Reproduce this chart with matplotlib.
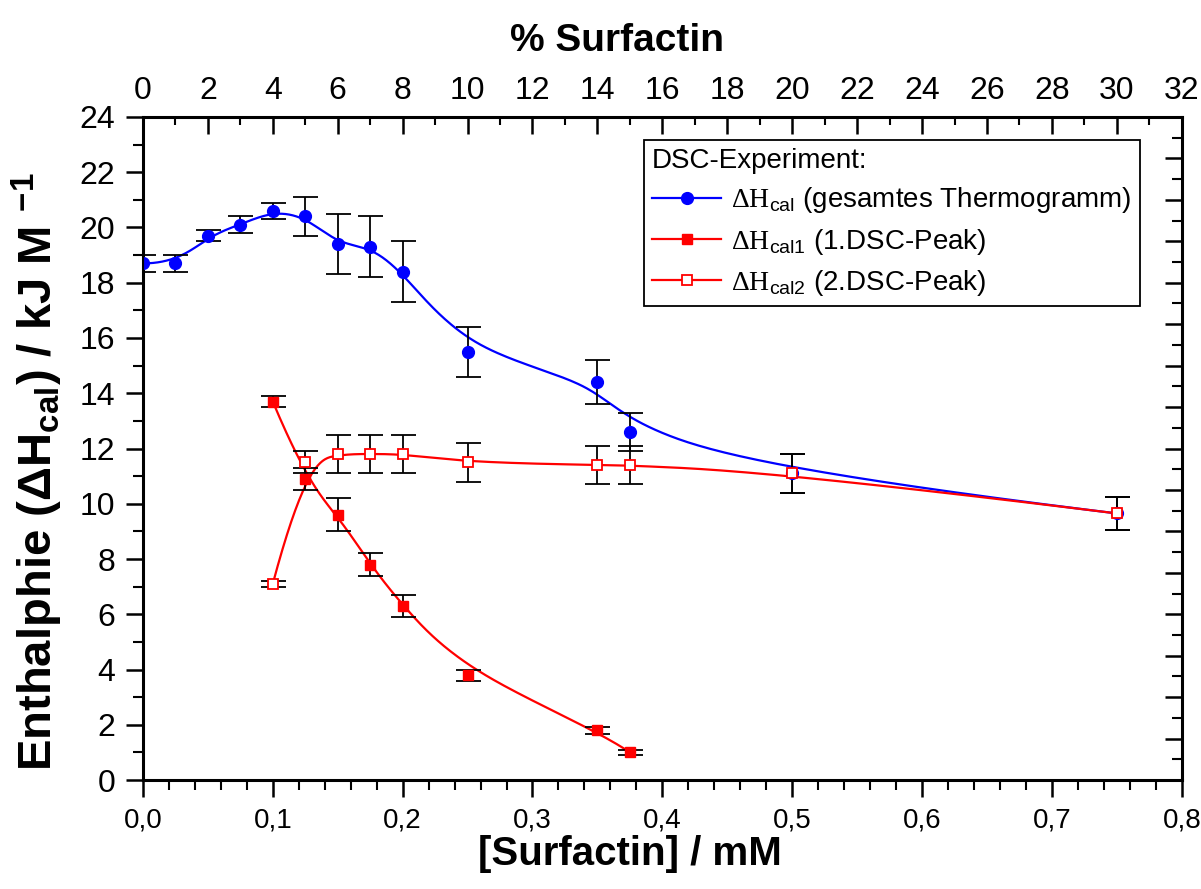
import numpy as np
import matplotlib
matplotlib.use('Agg')
import matplotlib.pyplot as plt
from matplotlib import font_manager
from matplotlib.ticker import MultipleLocator, FuncFormatter
from matplotlib.lines import Line2D

plt.rcParams['font.family'] = ['Liberation Sans', 'DejaVu Sans']
plt.rcParams['mathtext.fontset'] = 'custom'
plt.rcParams['mathtext.rm'] = 'Liberation Serif'
plt.rcParams['mathtext.sf'] = 'Liberation Sans'
plt.rcParams['mathtext.bf'] = 'Liberation Sans:bold'

installed = {f.name for f in font_manager.fontManager.ttflist}
has_narrow = 'Liberation Sans Narrow' in installed
narrow = 'Liberation Sans Narrow' if has_narrow else 'Liberation Sans'

# [Surfactin] / mM and enthalpies / kJ M^-1
conc_total = [0.0, 0.025, 0.05, 0.075, 0.1, 0.125, 0.15, 0.175, 0.2, 0.25, 0.35, 0.375, 0.5, 0.75]
dh_total = [18.7, 18.7, 19.7, 20.1, 20.6, 20.4, 19.4, 19.3, 18.4, 15.5, 14.4, 12.6, 11.1, 9.65]
err_total = [0.3, 0.3, 0.2, 0.3, 0.3, 0.7, 1.1, 1.1, 1.1, 0.9, 0.8, 0.7, 0.7, 0.6]

conc_peak1 = [0.1, 0.125, 0.15, 0.175, 0.2, 0.25, 0.35, 0.375]
dh_peak1 = [13.7, 10.9, 9.6, 7.8, 6.3, 3.8, 1.8, 1.0]
err_peak1 = [0.2, 0.4, 0.6, 0.4, 0.4, 0.2, 0.12, 0.1]

conc_peak2 = [0.1, 0.125, 0.15, 0.175, 0.2, 0.25, 0.35, 0.375, 0.5, 0.75]
dh_peak2 = [7.1, 11.5, 11.8, 11.8, 11.8, 11.5, 11.4, 11.4, 11.1, 9.65]
err_peak2 = [0.1, 0.4, 0.7, 0.7, 0.7, 0.7, 0.7, 0.7, 0.7, 0.6]


def bspline(xs, ys, num=400):
    # clamped cubic B-spline using the data points as control points
    xs = np.asarray(xs, float)
    ys = np.asarray(ys, float)
    n = len(xs)
    k = 3
    knots = np.concatenate([np.zeros(k), np.arange(n - k + 1), np.full(k, n - k)]).astype(float)
    t = np.linspace(0, n - k, num)
    N = np.zeros((num, len(knots) - 1))
    for i in range(len(knots) - 1):
        N[:, i] = (knots[i] <= t) & (t < knots[i + 1])
    N[-1, n - 1] = 1.0
    for p in range(1, k + 1):
        Nn = np.zeros((num, len(knots) - 1 - p))
        for i in range(len(knots) - 1 - p):
            d1 = knots[i + p] - knots[i]
            d2 = knots[i + p + 1] - knots[i + 1]
            if d1 > 0:
                Nn[:, i] += (t - knots[i]) / d1 * N[:, i]
            if d2 > 0:
                Nn[:, i] += (knots[i + p + 1] - t) / d2 * N[:, i + 1]
        N = Nn
    return N @ xs, N @ ys


fig = plt.figure(figsize=(12.01, 8.89), dpi=100)
ax = fig.add_axes([0.119, 0.1226, 0.865, 0.7458])

blue = '#0000ff'
red = '#ff0000'

for cx, cy, col in [(conc_total, dh_total, blue), (conc_peak1, dh_peak1, red), (conc_peak2, dh_peak2, red)]:
    sx, sy = bspline(cx, cy)
    ax.plot(sx, sy, color=col, lw=1.6, zorder=2)

for cx, cy, ce in [(conc_total, dh_total, err_total), (conc_peak1, dh_peak1, err_peak1), (conc_peak2, dh_peak2, err_peak2)]:
    ax.errorbar(cx, cy, yerr=ce, fmt='none', ecolor='black', elinewidth=1.3,
                capsize=9, capthick=1.3, zorder=3)

ax.plot(conc_total, dh_total, 'o', ms=8.5, color=blue, mec=blue, zorder=4)
ax.plot(conc_peak1, dh_peak1, 's', ms=7.5, color=red, mec=red, zorder=5)
ax.plot(conc_peak2, dh_peak2, 's', ms=7.5, mfc='white', mec=red, mew=1.3, zorder=6)

ax.set_xlim(0, 0.8)
ax.set_ylim(0, 24)
ax.xaxis.set_major_locator(MultipleLocator(0.1))
ax.xaxis.set_minor_locator(MultipleLocator(0.02))
ax.yaxis.set_major_locator(MultipleLocator(2))
ax.yaxis.set_minor_locator(MultipleLocator(1))
ax.xaxis.set_major_formatter(FuncFormatter(lambda v, p: ('%.1f' % v).replace('.', ',')))
ax.tick_params(which='major', direction='out', length=12, width=1.8, labelsize=23, pad=8)
ax.tick_params(which='minor', direction='out', length=7, width=1.5)
ax.tick_params(axis='x', labelsize=26 if has_narrow else 20, labelfontfamily=narrow)
for sp in ax.spines.values():
    sp.set_linewidth(2.2)

ax.set_xlabel('[Surfactin] / mM', fontsize=33 if has_narrow else 29, fontweight='bold', family=narrow)
ax.xaxis.set_label_coords(0.469, -0.083)
ax.set_ylabel(r'Enthalphie (ΔH$_{\mathbf{cal}}$) / kJ M $^{\mathbf{-1}}$', fontsize=34, fontweight='bold')
ax.yaxis.set_label_coords(-0.075, 0.465)

# top axis: % Surfactin
ax_top = ax.twiny()
ax_top.set_xlim(0, 32)
ax_top.xaxis.set_major_locator(MultipleLocator(2))
ax_top.xaxis.set_minor_locator(MultipleLocator(1))
ax_top.tick_params(which='major', direction='in', length=12, width=1.8, labelsize=23, pad=8)
ax_top.tick_params(which='minor', direction='in', length=6, width=1.5)
ax_top.set_xlabel('% Surfactin', fontsize=28, fontweight='bold')
ax_top.xaxis.set_label_coords(0.456, 1.1)

# right axis: ticks only
ax_r = ax.twinx()
ax_r.set_ylim(0, 32)
ax_r.yaxis.set_major_locator(MultipleLocator(2))
ax_r.yaxis.set_minor_locator(MultipleLocator(1))
ax_r.tick_params(which='major', direction='in', length=12, width=1.8, labelright=False)
ax_r.tick_params(which='minor', direction='in', length=7, width=1.5)

handles = [
    Line2D([], [], color=blue, lw=1.6, marker='o', ms=8.5),
    Line2D([], [], color=red, lw=1.6, marker='s', ms=7.5),
    Line2D([], [], color=red, lw=1.6, marker='s', ms=7.5, mfc='white', mew=1.3),
]
labels = [
    r'$\mathrm{\Delta H}_{\mathsf{cal}}$ (gesamtes Thermogramm)',
    r'$\mathrm{\Delta H}_{\mathsf{cal1}}$ (1.DSC-Peak)',
    r'$\mathrm{\Delta H}_{\mathsf{cal2}}$ (2.DSC-Peak)',
]
leg = ax_r.legend(handles, labels, title='DSC-Experiment:', loc='upper right',
                  bbox_to_anchor=(0.9596, 0.9653), borderaxespad=0, fontsize=20,
                  title_fontsize=20, alignment='left', fancybox=False, edgecolor='black',
                  framealpha=1, handlelength=2.5, handletextpad=0.35, labelspacing=0.4,
                  borderpad=0.3)
leg.get_frame().set_linewidth(1.3)

fig.savefig('out.png', dpi=100)
